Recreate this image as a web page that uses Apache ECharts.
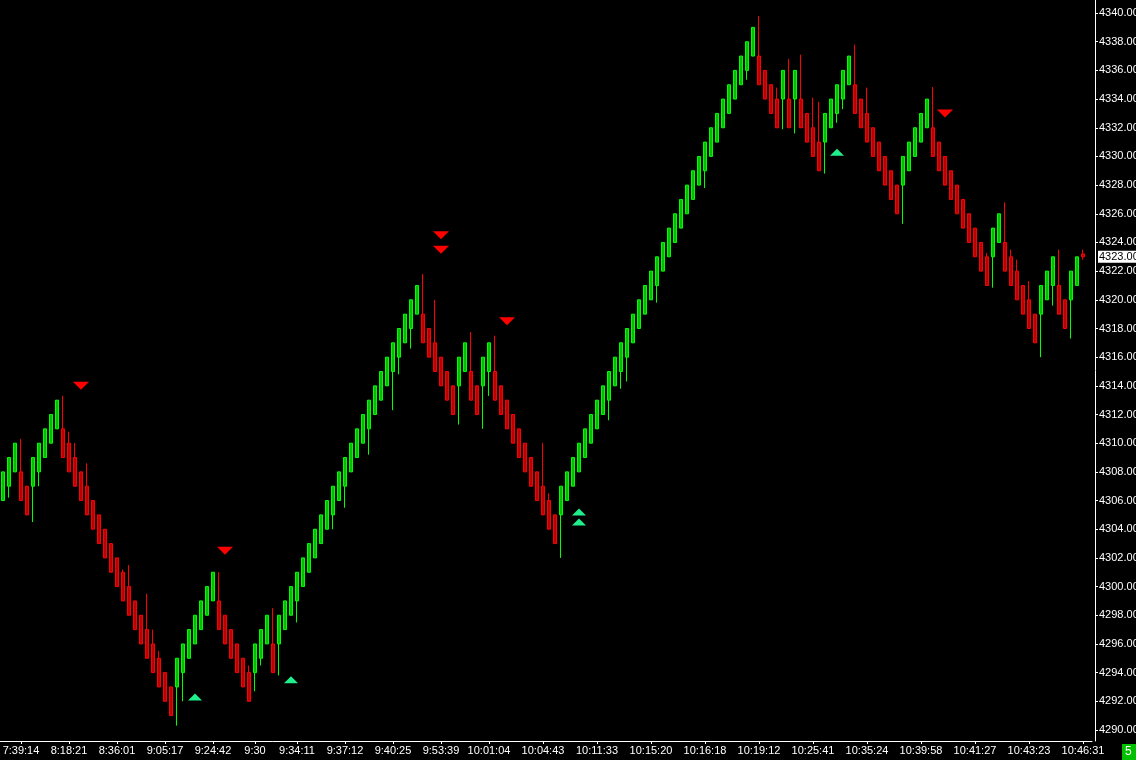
<!DOCTYPE html>
<html>
<head>
<meta charset="utf-8">
<script src="https://cdn.jsdelivr.net/npm/echarts@6.0.0/dist/echarts.min.js"></script>
<style>
  html, body { margin: 0; padding: 0; background: #000; }
  #main { width: 1136px; height: 760px; }
</style>
</head>
<body>
<div id="main"></div>
<script>
// renko bars, one per category (index 180 is the bar still forming)
var opens = [
  4306, 4307, 4308, 4308, 4307, 4307, 4308, 4309, 4310, 4311,
  4311, 4310, 4309, 4308, 4307, 4306, 4305, 4304, 4303, 4302,
  4301, 4300, 4299, 4298, 4297, 4296, 4295, 4294, 4293, 4293,
  4294, 4295, 4296, 4297, 4298, 4299, 4299, 4298, 4297, 4296,
  4295, 4294, 4294, 4295, 4296, 4296, 4296, 4297, 4298, 4299,
  4300, 4301, 4302, 4303, 4304, 4305, 4306, 4307, 4308, 4309,
  4310, 4311, 4312, 4313, 4314, 4315, 4316, 4317, 4318, 4319,
  4319, 4318, 4317, 4316, 4315, 4314, 4314, 4315, 4315, 4314,
  4314, 4315, 4315, 4314, 4313, 4312, 4311, 4310, 4309, 4308,
  4307, 4306, 4305, 4305, 4306, 4307, 4308, 4309, 4310, 4311,
  4312, 4313, 4314, 4315, 4316, 4317, 4318, 4319, 4320, 4321,
  4322, 4323, 4324, 4325, 4326, 4327, 4328, 4329, 4330, 4331,
  4332, 4333, 4334, 4335, 4336, 4337, 4337, 4336, 4335, 4334,
  4334, 4334, 4334, 4334, 4333, 4332, 4331, 4331, 4332, 4333,
  4334, 4335, 4335, 4334, 4333, 4332, 4331, 4330, 4329, 4328,
  4328, 4329, 4330, 4331, 4332, 4332, 4331, 4330, 4329, 4328,
  4327, 4326, 4325, 4324, 4323, 4323, 4324, 4324, 4323, 4322,
  4321, 4320, 4319, 4319, 4320, 4321, 4321, 4320, 4320, 4321,
  4323.2
];
var closes = [
  4308, 4309, 4310, 4306, 4305, 4309, 4310, 4311, 4312, 4313,
  4309, 4308, 4307, 4306, 4305, 4304, 4303, 4302, 4301, 4300,
  4299, 4298, 4297, 4296, 4295, 4294, 4293, 4292, 4291, 4295,
  4296, 4297, 4298, 4299, 4300, 4301, 4297, 4296, 4295, 4294,
  4293, 4292, 4296, 4297, 4298, 4294, 4298, 4299, 4300, 4301,
  4302, 4303, 4304, 4305, 4306, 4307, 4308, 4309, 4310, 4311,
  4312, 4313, 4314, 4315, 4316, 4317, 4318, 4319, 4320, 4321,
  4317, 4316, 4315, 4314, 4313, 4312, 4316, 4317, 4313, 4312,
  4316, 4317, 4313, 4312, 4311, 4310, 4309, 4308, 4307, 4306,
  4305, 4304, 4303, 4307, 4308, 4309, 4310, 4311, 4312, 4313,
  4314, 4315, 4316, 4317, 4318, 4319, 4320, 4321, 4322, 4323,
  4324, 4325, 4326, 4327, 4328, 4329, 4330, 4331, 4332, 4333,
  4334, 4335, 4336, 4337, 4338, 4339, 4335, 4334, 4333, 4332,
  4336, 4332, 4336, 4332, 4331, 4330, 4329, 4333, 4334, 4335,
  4336, 4337, 4333, 4332, 4331, 4330, 4329, 4328, 4327, 4326,
  4330, 4331, 4332, 4333, 4334, 4330, 4329, 4328, 4327, 4326,
  4325, 4324, 4323, 4322, 4321, 4325, 4326, 4322, 4321, 4320,
  4319, 4318, 4317, 4321, 4322, 4323, 4319, 4318, 4322, 4323,
  4323
];
// wicks that stick out of the body, keyed by bar index
var upperWicks = {
  3: 4310.3, 10: 4313.3, 11: 4310.8, 12: 4310.0, 14: 4308.6, 20: 4301.2, 21: 4301.5,
  24: 4299.5, 25: 4297, 26: 4295.5, 36: 4301, 41: 4294.5, 45: 4298.5, 70: 4321.8,
  72: 4320.0, 78: 4317.75, 82: 4317.5, 90: 4310, 91: 4306.5, 126: 4339.8, 129: 4334.8,
  131: 4336.8, 133: 4337.1, 135: 4334.1, 136: 4333.8, 142: 4337.8, 144: 4334.8,
  155: 4334.84, 164: 4323.26, 167: 4326.8, 168: 4323.5, 169: 4322.8, 171: 4321.3,
  176: 4323.5, 180: 4323.5
};
var lowerWicks = {
  1: 4306.2, 5: 4304.5, 6: 4307, 29: 4290.3, 30: 4292, 42: 4292.7, 43: 4294.5,
  46: 4293.8, 49: 4297.5, 55: 4304.0, 57: 4305.5, 61: 4309.2, 65: 4312.3, 66: 4314.8,
  68: 4316.6, 76: 4311.3, 80: 4311, 81: 4313.3, 93: 4302, 101: 4311.6, 103: 4313.8,
  104: 4314.3, 109: 4319.8, 117: 4327.8, 124: 4335.35, 130: 4331.9, 132: 4331.6,
  137: 4328.8, 139: 4332.35, 140: 4333.3, 150: 4325.3, 165: 4320.85, 173: 4316.0,
  175: 4319.6, 178: 4317.3, 180: 4322.8
};

// signal triangles [bar index, price]
var sellSignals = [[13, 4314.0], [37, 4302.5], [73, 4324.5], [73, 4323.5], [84, 4318.5], [157, 4333.0]];
var buySignals = [[32, 4292.3], [48, 4293.5], [96, 4305.2], [96, 4304.5], [139, 4330.3]];

// time axis labels
var timeLabelIdx = [3, 11, 19, 27, 35, 42, 49, 57, 65, 73, 81, 90, 99, 108, 117, 126, 135, 144, 153, 162, 171, 180];
var timeLabels = ['7:39:14', '8:18:21', '8:36:01', '9:05:17', '9:24:42', '9:30', '9:34:11', '9:37:12',
  '9:40:25', '9:53:39', '10:01:04', '10:04:43', '10:11:33', '10:15:20', '10:16:18', '10:19:12',
  '10:25:41', '10:35:24', '10:39:58', '10:41:27', '10:43:23', '10:46:31'];

var priceTicks = [];
for (var p = 4290; p <= 4340; p += 2) priceTicks.push(p);
var lastPrice = 4323;

var categories = [];
var candles = [];
for (var i = 0; i < 182; i++) {
  var k = timeLabelIdx.indexOf(i);
  categories.push(k >= 0 ? timeLabels[k] : '');
}
for (var j = 0; j < closes.length; j++) {
  var o = opens[j], c = closes[j];
  var hi = upperWicks[j] !== undefined ? upperWicks[j] : Math.max(o, c);
  var lo = lowerWicks[j] !== undefined ? lowerWicks[j] : Math.min(o, c);
  candles.push([o, c, lo, hi]);
}
function isLabelled(index) { return timeLabelIdx.indexOf(index) >= 0; }

var myChart = echarts.init(document.getElementById('main'));
myChart.setOption({
  backgroundColor: '#000000',
  animation: false,
  textStyle: { fontFamily: 'Liberation Sans' },
  grid: { left: 0, top: 0, width: 1092, height: 741, containLabel: false, outerBoundsMode: 'none' },
  xAxis: {
    type: 'category',
    data: categories,
    boundaryGap: true,
    axisLine: { lineStyle: { color: '#ffffff', width: 1 } },
    axisTick: { show: true, alignWithLabel: true, interval: isLabelled, length: 3, lineStyle: { color: '#ffffff' } },
    axisLabel: { interval: isLabelled, color: '#ffffff', fontSize: 11, margin: 4 },
    splitLine: { show: false }
  },
  yAxis: {
    type: 'value',
    position: 'right',
    offset: 3,
    min: 4289.23,
    max: 4340.91,
    scale: true,
    axisLine: { show: true, lineStyle: { color: '#ffffff', width: 1 } },
    axisTick: { show: true, customValues: priceTicks, length: 3, lineStyle: { color: '#ffffff' } },
    axisLabel: {
      customValues: priceTicks, color: '#ffffff', fontSize: 11, margin: 4,
      formatter: function (v) { return v.toFixed(2); }
    },
    splitLine: { show: false }
  },
  series: [
    {
      type: 'candlestick',
      data: candles,
      barWidth: 4,
      itemStyle: {
        color: '#00c000',
        color0: '#c00000',
        borderColor: '#00ff00',
        borderColor0: '#ff0000',
        borderWidth: 1
      },
      markLine: {
        silent: true,
        symbol: 'none',
        lineStyle: { color: 'rgba(0,0,0,0)', width: 0 },
        label: {
          show: true,
          position: 'end',
          distance: 6,
          formatter: lastPrice.toFixed(2),
          color: '#000000',
          backgroundColor: '#ffffff',
          opacity: 1,
          fontSize: 11,
          padding: [1, 2, 0, 1]
        },
        data: [{ yAxis: lastPrice }]
      }
    },
    {
      type: 'scatter',
      data: sellSignals,
      symbol: 'triangle',
      symbolRotate: 180,
      symbolSize: [16, 8],
      itemStyle: { color: '#ff0000', opacity: 1 },
      silent: true
    },
    {
      type: 'scatter',
      data: buySignals,
      symbol: 'triangle',
      symbolSize: [14, 7],
      itemStyle: { color: '#20f08c', opacity: 1 },
      silent: true
    }
  ],
  graphic: [
    {
      type: 'group',
      left: 1122,
      top: 744,
      children: [
        { type: 'rect', shape: { x: 0, y: 0, width: 14, height: 16 }, style: { fill: '#00c000' } },
        { type: 'text', x: 3, y: 2, style: { text: '5 I', fill: '#ffffff', font: '12px Liberation Sans' } }
      ]
    }
  ]
});
</script>
</body>
</html>
